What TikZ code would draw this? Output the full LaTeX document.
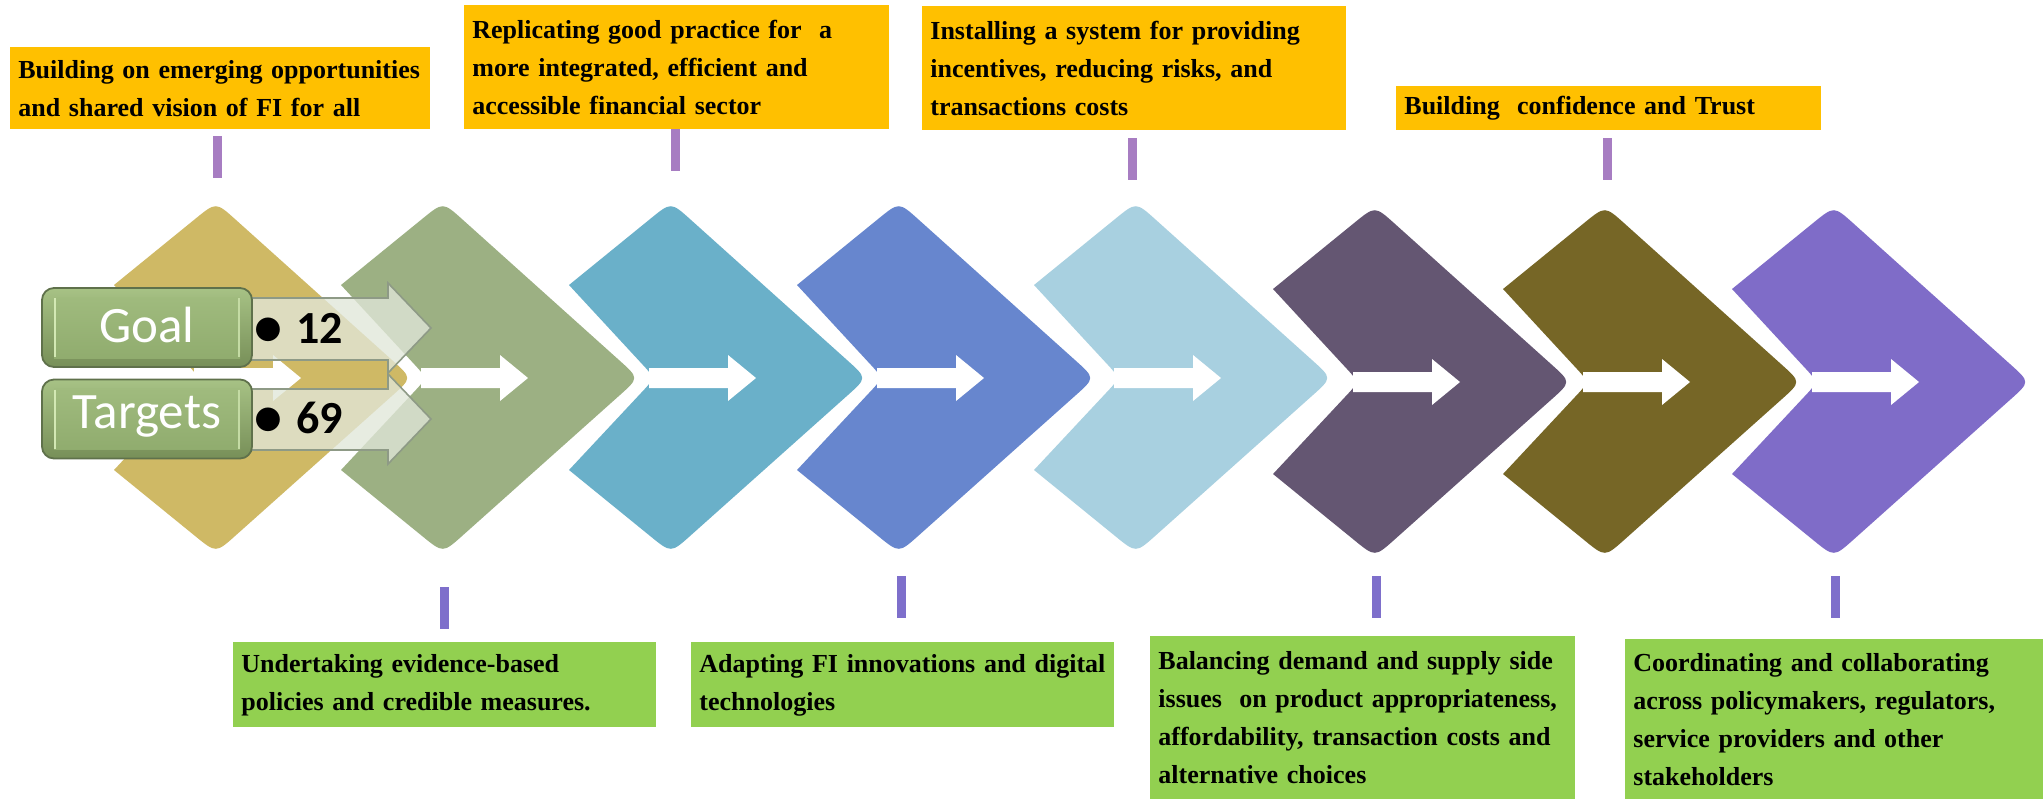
\documentclass[tikz,border=0pt]{standalone}
\usepackage{fontspec}
\usetikzlibrary{calc}
\newfontfamily\boxfont{Liberation Serif}
\newfontfamily\calfont{Carlito}

% shape colours
\definecolor{cGold}{HTML}{CFB965}
\definecolor{cSage}{HTML}{9CB083}
\definecolor{cTeal}{HTML}{6AB0C9}
\definecolor{cCobalt}{HTML}{6786CE}
\definecolor{cSky}{HTML}{A8D0E0}
\definecolor{cPlum}{HTML}{645672}
\definecolor{cOlive}{HTML}{766626}
\definecolor{cViolet}{HTML}{7F6CC8}
% boxes and bars
\definecolor{cOrange}{HTML}{FFC000}
\definecolor{cLime}{HTML}{92D050}
\definecolor{cOrchid}{HTML}{A77DC2}
\definecolor{cIris}{HTML}{7E6FCB}
% goal / target panels
\definecolor{cGoalTop}{HTML}{A7C285}
\definecolor{cGoalBot}{HTML}{778F58}
\definecolor{cGoalEdge}{HTML}{5F714B}
\definecolor{cPanelTop}{HTML}{A2BD80}
\definecolor{cPanelBot}{HTML}{8EAA6C}
\definecolor{cPanelHi}{HTML}{D3E8B4}
\definecolor{cMist}{HTML}{E1E7D9}
\definecolor{cSlate}{HTML}{8E9A86}

\tikzset{
  infobox/.style={anchor=north west, inner xsep=4pt, inner ysep=0pt, align=left,
    font=\boxfont\bfseries\fontsize{13}{19}\selectfont, text=black},
  upbox/.style={infobox, fill=cOrange},
  downbox/.style={infobox, fill=cLime},
  topbar/.style={draw=cOrchid, line width=4.5pt},
  botbar/.style={draw=cIris, line width=4.5pt},
  goalbox/.style={draw=cGoalEdge, line width=0.9pt, rounded corners=6pt,
    top color=cGoalTop, bottom color=cGoalBot,
    minimum width=105pt, minimum height=39.5pt, inner sep=0pt,
    text=white, font=\calfont\fontsize{25.5}{30}\selectfont, text depth=0pt,
    path picture={
      \fill[sharp corners, top color=cPanelTop, bottom color=cPanelBot]
        ($(path picture bounding box.north west)+(6pt,-4.5pt)$) rectangle
        ($(path picture bounding box.south east)+(-6pt,4.5pt)$);
      \draw[sharp corners, cPanelHi, line width=1.2pt]
        ($(path picture bounding box.north west)+(6.5pt,-5pt)$) --
        ($(path picture bounding box.south west)+(6.5pt,5pt)$);
      \draw[sharp corners, cPanelHi!70!cPanelTop, line width=0.8pt]
        ($(path picture bounding box.north east)+(-6.5pt,-5pt)$) --
        ($(path picture bounding box.south east)+(-6.5pt,5pt)$);
    }},
  goalarrow/.style={fill=cMist, fill opacity=0.78, draw=cSlate, line width=0.8pt},
  numtext/.style={anchor=base, inner sep=0pt, text=black,
    font=\calfont\bfseries\fontsize{23}{27}\selectfont},
  dottext/.style={numtext, font=\calfont\bfseries\fontsize{28}{27}\selectfont},
}

% one chevron step: #1,#2 = top point, #3 = colour, #4 = name
\newcommand\chevshape[4]{%
  \begin{scope}[shift={(#1,#2)}]
    \coordinate (#4-t) at (0,0);
    \coordinate (#4-r) at (196,176);
    \coordinate (#4-b) at (0,351);
    \coordinate (#4-ll) at (-102,268);
    \coordinate (#4-n) at (-16,176);
    \coordinate (#4-ul) at (-102,83);
    \fill[#3] (#4-ul)
      -- ($(#4-t)!13pt!(#4-ul)$) .. controls (#4-t) .. ($(#4-t)!13pt!(#4-r)$)
      -- ($(#4-r)!13pt!(#4-t)$) .. controls (#4-r) .. ($(#4-r)!13pt!(#4-b)$)
      -- ($(#4-b)!13pt!(#4-r)$) .. controls (#4-b) .. ($(#4-b)!13pt!(#4-ll)$)
      -- (#4-ll)
      -- ($(#4-n)!9pt!(#4-ll)$) .. controls (#4-n) .. ($(#4-n)!9pt!(#4-ul)$)
      -- cycle;
    \fill[white] (-22,166) -- (57,166) -- (57,153) -- (85,176)
      -- (57,199) -- (57,186) -- (-22,186) -- cycle;
  \end{scope}}

\begin{document}
\begin{tikzpicture}[x=0.5pt,y=-0.5pt]
\fill[white] (0,0) rectangle (2043,799);
\useasboundingbox (0,0) rectangle (2043,799);

% chain of steps
\chevshape{216}{202}{cGold}{s1}
\chevshape{443}{202}{cSage}{s2}
\chevshape{671}{202}{cTeal}{s3}
\chevshape{899}{202}{cCobalt}{s4}
\chevshape{1136}{202}{cSky}{s5}
\chevshape{1375}{206}{cPlum}{s6}
\chevshape{1605}{206}{cOlive}{s7}
\chevshape{1834}{206}{cViolet}{s8}

% goal and target counts
\draw[goalarrow] (250,298) -- (388,298) -- (388,283) -- (431,328)
  -- (388,373) -- (388,360) -- (250,360) -- cycle;
\draw[goalarrow] (250,389) -- (388,389) -- (388,374) -- (431,419)
  -- (388,464) -- (388,450) -- (250,450) -- cycle;
\node[goalbox, text height=15pt] (goal) at (147,327.5) {Goal};
\node[goalbox, text height=9pt] (targets) at (147,419) {Targets};
\node[dottext] (goaldot) at (268,345) {•};
\node[numtext, anchor=base west] (goalnum) at (296,343) {12};
\node[dottext] (targetdot) at (268,435) {•};
\node[numtext, anchor=base west] (targetnum) at (296,433) {69};

% upper captions
\node[upbox, text width=202pt, minimum height=41pt] (opportunity) at (10,47)
  {Building on emerging opportunities\\and shared vision of FI for all};
\node[upbox, text width=204.5pt, minimum height=62pt] (practice) at (464,5)
  {Replicating good practice for\ \ a\\more integrated, efficient and\\accessible financial sector};
\node[upbox, text width=204pt, minimum height=62pt] (incentives) at (922,6)
  {Installing a system for providing\\incentives, reducing risks, and\\transactions costs};
\node[upbox, text width=204.5pt, minimum height=22pt] (trust) at (1396,86)
  {Building\ \ confidence and Trust};

% lower captions
\node[downbox, text width=203.5pt, minimum height=42.5pt] (evidence) at (233,642)
  {Undertaking evidence-based\\policies and credible measures.};
\node[downbox, text width=203.5pt, minimum height=42.5pt] (innovation) at (691,642)
  {Adapting FI innovations and digital\\technologies};
\node[downbox, text width=204.5pt, minimum height=81.5pt] (balance) at (1150,636)
  {Balancing demand and supply side\\issues\ \ on product appropriateness,\\affordability, transaction costs and\\alternative choices};
\node[downbox, text width=201pt, minimum height=80pt] (coordination) at (1625,639)
  {Coordinating and collaborating\\across policymakers, regulators,\\service providers and other\\stakeholders};

% ticks linking captions to steps
\coordinate (ua1) at (217,136);  \coordinate (ua2) at (217,178);
\coordinate (ub1) at (675,129);  \coordinate (ub2) at (675,171);
\coordinate (uc1) at (1132,138); \coordinate (uc2) at (1132,180);
\coordinate (ud1) at (1607,138); \coordinate (ud2) at (1607,180);
\draw[topbar] (ua1) -- (ua2);
\draw[topbar] (ub1) -- (ub2);
\draw[topbar] (uc1) -- (uc2);
\draw[topbar] (ud1) -- (ud2);
\coordinate (la1) at (444,587);  \coordinate (la2) at (444,629);
\coordinate (lb1) at (901,576);  \coordinate (lb2) at (901,618);
\coordinate (lc1) at (1376,576); \coordinate (lc2) at (1376,618);
\coordinate (ld1) at (1835,576); \coordinate (ld2) at (1835,618);
\draw[botbar] (la1) -- (la2);
\draw[botbar] (lb1) -- (lb2);
\draw[botbar] (lc1) -- (lc2);
\draw[botbar] (ld1) -- (ld2);
\end{tikzpicture}
\end{document}
